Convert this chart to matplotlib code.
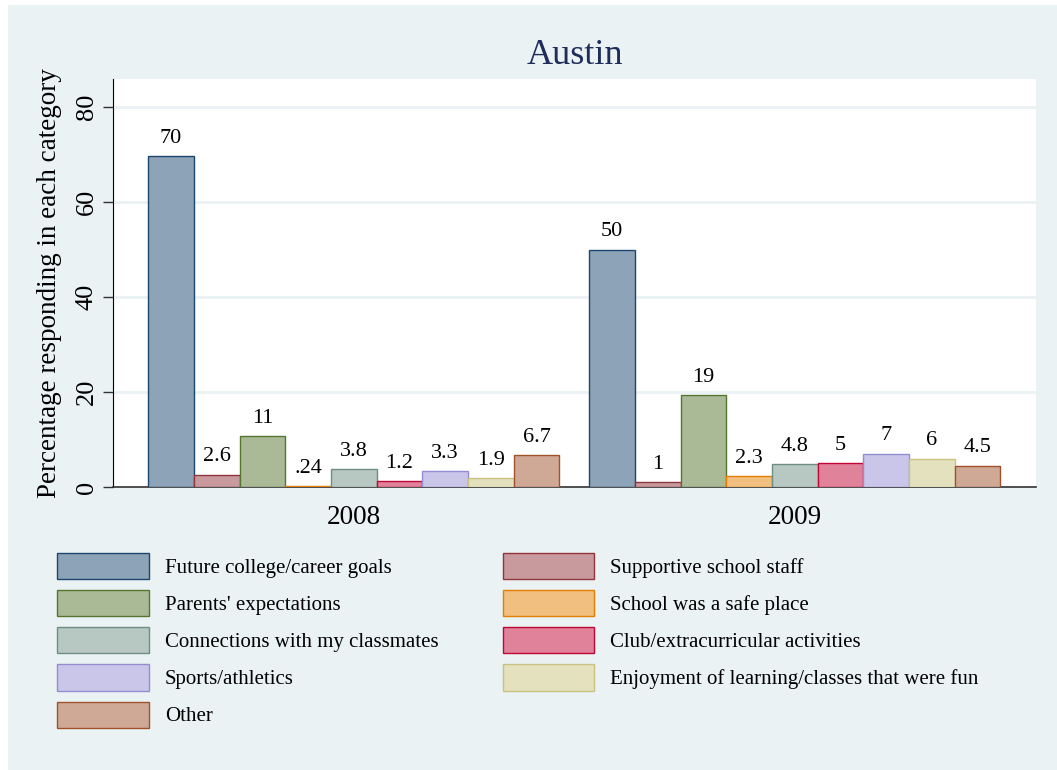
import numpy as np
import matplotlib
matplotlib.use("Agg")
import matplotlib.pyplot as plt
from matplotlib.patches import Rectangle

plt.rcParams['font.family'] = ['Liberation Serif', 'DejaVu Serif']

# data
years = ["2008", "2009"]
categories = ["Future college/career goals", "Supportive school staff",
              "Parents' expectations", "School was a safe place",
              "Connections with my classmates", "Club/extracurricular activities",
              "Sports/athletics", "Enjoyment of learning/classes that were fun",
              "Other"]
vals_2008 = [69.7, 2.6, 10.7, 0.24, 3.8, 1.2, 3.3, 1.9, 6.7]
vals_2009 = [50.0, 1.0, 19.4, 2.3, 4.8, 5.0, 7.0, 6.0, 4.5]

# stata s2color style line colours, fills are 50% towards white
edges = ["#1a476f", "#90353b", "#55752f", "#e37e00", "#6e8e84",
         "#c10534", "#938dd2", "#cac27e", "#a0522d"]

def light(c):
    rgb = np.array(matplotlib.colors.to_rgb(c))
    return tuple(rgb * 0.5 + 0.5)

bg = "#eaf2f3"

fig = plt.figure(figsize=(10.57, 7.7), dpi=100)
fig.patch.set_facecolor("white")
fig.patches.append(Rectangle((8 / 1057, 0), 1 - 8 / 1057, 1 - 5 / 770,
                             transform=fig.transFigure, facecolor=bg,
                             edgecolor="none", zorder=-10))

ax = fig.add_axes([113 / 1057, 1 - 487 / 770, (1036 - 113) / 1057, (487 - 79) / 770])
ax.set_facecolor("white")

n = len(categories)
gap = 0.65
group_x = [0, n + gap]
handles = []
for g, vals in enumerate([vals_2008, vals_2009]):
    for i, v in enumerate(vals):
        x = group_x[g] + i + 0.5
        b = ax.bar(x, v, width=1.0, color=light(edges[i]), edgecolor=edges[i],
                   linewidth=1.0, zorder=3)
        if g == 0:
            handles.append(b)
        lab = "%.2g" % v
        if lab.startswith("0."):
            lab = lab[1:]
        ax.annotate(lab, (x, v), xytext=(0, 6), textcoords="offset points",
                    ha="center", va="bottom", fontsize=16, color="black")

ax.set_xlim(-0.77, group_x[1] + n + 0.78)
ax.set_ylim(0, 85.9)
ax.set_yticks([0, 20, 40, 60, 80])
ax.set_yticklabels(["0", "20", "40", "60", "80"], rotation=90, va="center",
                   fontsize=19)
ax.tick_params(axis="y", length=7, width=1, color="#333333", pad=4)
ax.set_xticks([group_x[0] + n / 2, group_x[1] + n / 2])
ax.set_xticklabels(years, fontsize=19.5)
ax.tick_params(axis="x", length=0, pad=13)
ax.yaxis.grid(True, color=bg, linewidth=2, zorder=0)
ax.set_axisbelow(True)
for s in ["top", "right"]:
    ax.spines[s].set_visible(False)
ax.spines["left"].set_color("black")
ax.spines["bottom"].set_color("#333333")
ax.spines["bottom"].set_linewidth(1.2)

ax.set_ylabel("Percentage responding in each category", fontsize=19.5)
ax.yaxis.set_label_coords(-0.055, 0.5)
fig.text(575 / 1057, 1 - 55 / 770, "Austin", ha="center", va="center",
         fontsize=26, color="#1e2d5a")

# legend: stata fills rows, matplotlib fills columns
order = [0, 2, 4, 6, 8, 1, 3, 5, 7]
fig.legend([handles[i] for i in order], [categories[i] for i in order],
           ncol=2, loc="upper left", bbox_to_anchor=(57 / 1057, 1 - 553 / 770),
           frameon=False, fontsize=15, handlelength=4.4, handleheight=1.55,
           labelspacing=0.53, handletextpad=0.77, columnspacing=3.08,
           borderpad=0, borderaxespad=0)

fig.savefig("out.png", dpi=100, facecolor=fig.get_facecolor())
